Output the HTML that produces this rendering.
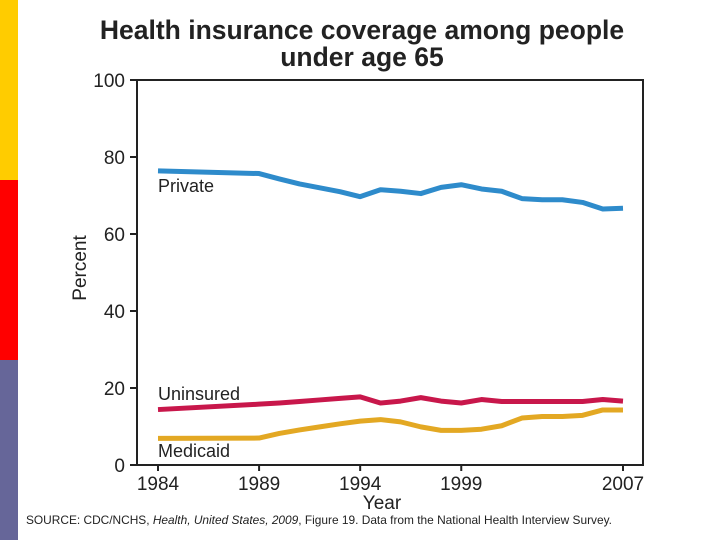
<!DOCTYPE html>
<html><head><meta charset="utf-8"><style>
body{margin:0;width:720px;height:540px;background:#fff;overflow:hidden;position:relative;font-family:"Liberation Sans",Arial,sans-serif}
.strip{position:absolute;left:0;width:18px}
</style></head><body>
<div class="strip" style="top:0;height:180px;background:#FFCC00"></div>
<div class="strip" style="top:180px;height:180px;background:#FF0000"></div>
<div class="strip" style="top:360px;height:180px;background:#666699"></div>
<svg id="chart" width="720" height="540" style="position:absolute;left:0;top:0">
<text x="362" y="39" text-anchor="middle" font-size="26.5" font-weight="bold" fill="#222">Health insurance coverage among people</text>
<text x="362" y="66" text-anchor="middle" font-size="26.5" font-weight="bold" fill="#222">under age 65</text>
<rect x="137" y="80" width="506" height="385" fill="none" stroke="#222" stroke-width="2"/>
<text x="0" y="0" transform="translate(86,268) rotate(-90)" text-anchor="middle" font-size="19" fill="#222">Percent</text>
<text x="382" y="509" text-anchor="middle" font-size="19" fill="#222">Year</text>
<text x="26" y="524" font-size="11.9" fill="#222">SOURCE: CDC/NCHS, <tspan font-style="italic">Health, United States, 2009</tspan>, Figure 19. Data from the National Health Interview Survey.</text>
<g id="axes"></g><g id="lines"></g>
<text x="158" y="192" font-size="18" fill="#222">Private</text>
<text x="158" y="400" font-size="18" fill="#222">Uninsured</text>
<text x="158" y="457" font-size="18" fill="#222">Medicaid</text>
</svg>
<script>
const years=[1984,1989,1990,1991,1992,1993,1994,1995,1996,1997,1998,1999,2000,2001,2002,2003,2004,2005,2006,2007];
const privateVals=[76.4,75.7,74.3,73,72,71,69.7,71.5,71.1,70.5,72.1,72.8,71.7,71.1,69.2,68.9,68.9,68.2,66.5,66.7];
const uninsuredVals=[14.4,15.8,16.1,16.5,16.9,17.3,17.7,16.1,16.6,17.5,16.6,16.1,17.0,16.5,16.5,16.5,16.5,16.5,17.0,16.6];
const medicaidVals=[6.9,7.0,8.2,9.1,9.9,10.7,11.4,11.8,11.2,9.9,9.0,9.0,9.3,10.2,12.2,12.6,12.6,12.9,14.3,14.3];
const yTicks=[0,20,40,60,80,100];
const xTicks=[1984,1989,1994,1999,2007];
const xs=y=>158+(y-1984)*(623-158)/23;
const ys=v=>465-v*3.85;
const NS="http://www.w3.org/2000/svg";
const ax=document.getElementById('axes'),ln=document.getElementById('lines');
yTicks.forEach(t=>{
 const l=document.createElementNS(NS,'line');
 l.setAttribute('x1',130);l.setAttribute('x2',137);l.setAttribute('y1',ys(t));l.setAttribute('y2',ys(t));l.setAttribute('stroke','#222');l.setAttribute('stroke-width',2);
 
 
 ax.appendChild(l);
 const tx=document.createElementNS(NS,'text');
 tx.setAttribute('x',125);tx.setAttribute('y',ys(t)+7);tx.setAttribute('text-anchor','end');tx.setAttribute('font-size','19');tx.setAttribute('fill','#222');tx.textContent=t;
 
 
 ax.appendChild(tx);
});
xTicks.forEach(t=>{
 const l=document.createElementNS(NS,'line');
 l.setAttribute('x1',xs(t));l.setAttribute('x2',xs(t));l.setAttribute('y1',465);l.setAttribute('y2',471);l.setAttribute('stroke','#222');l.setAttribute('stroke-width',2);
 
 
 ax.appendChild(l);
 const tx=document.createElementNS(NS,'text');
 tx.setAttribute('x',xs(t));tx.setAttribute('y',490);tx.setAttribute('text-anchor','middle');tx.setAttribute('font-size','19');tx.setAttribute('fill','#222');tx.textContent=t;
 
 
 ax.appendChild(tx);
});
function draw(vals,color,name){
 const p=document.createElementNS(NS,'polyline');
 p.setAttribute('points',years.map((y,i)=>xs(y)+','+ys(vals[i])).join(' '));
 p.setAttribute('fill','none');p.setAttribute('stroke',color);p.setAttribute('stroke-width',5);p.setAttribute('stroke-linejoin','round');
 
 
 ln.appendChild(p);
}
draw(privateVals,'#2E8BCB','line-private');
draw(uninsuredVals,'#C8174B','line-uninsured');
draw(medicaidVals,'#E3A823','line-medicaid');
</script>
</body></html>
